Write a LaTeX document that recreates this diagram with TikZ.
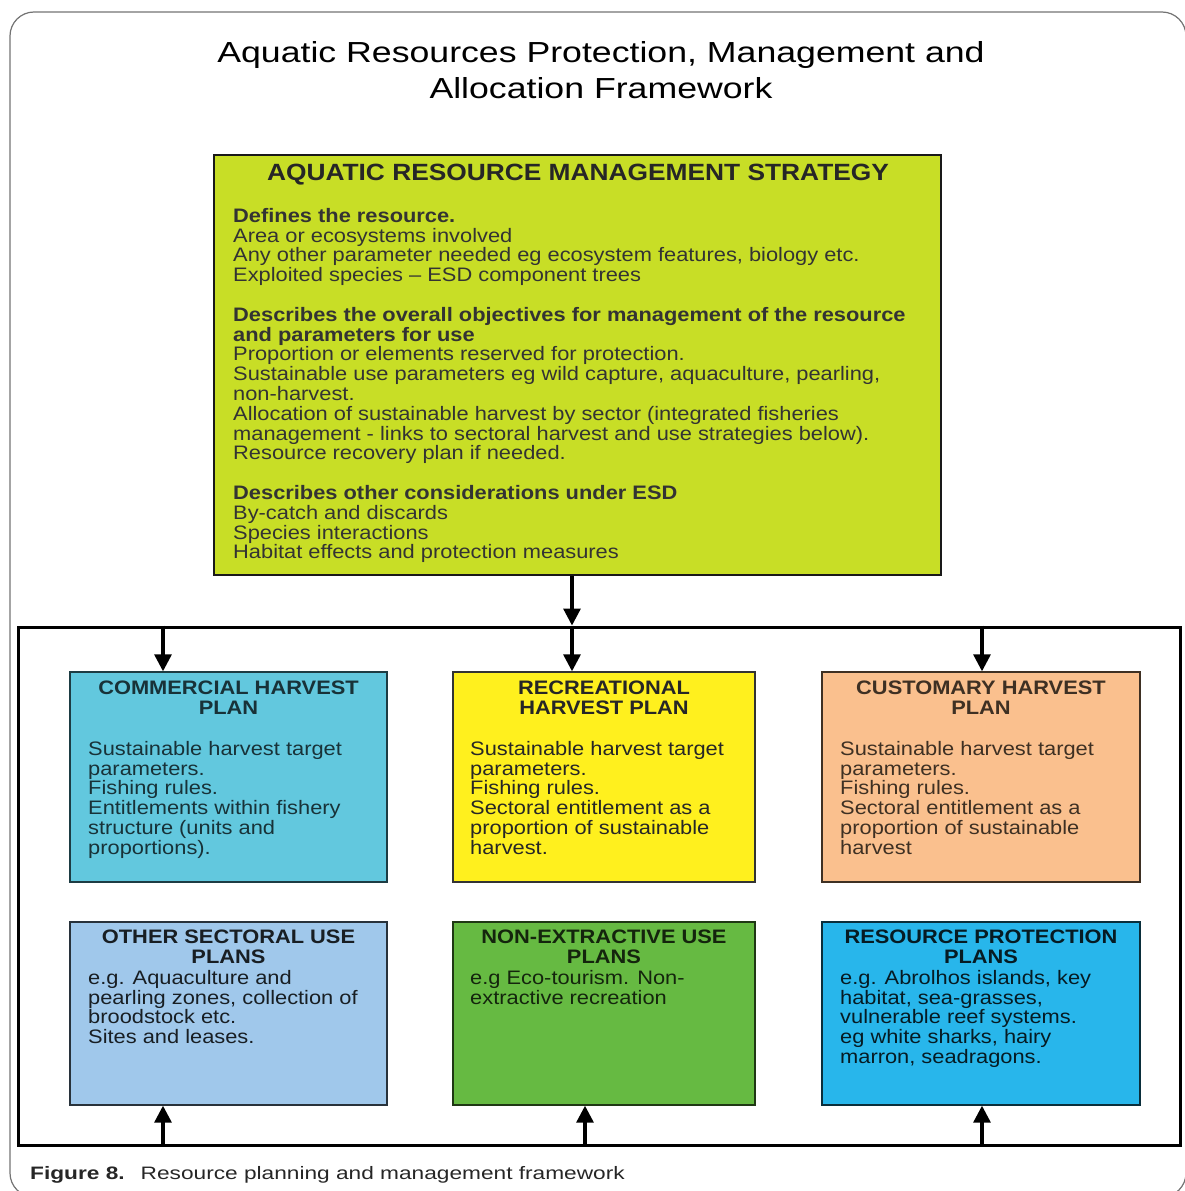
\documentclass[tikz,border=0pt]{standalone}
\usepackage{fontspec}
\setmainfont{Liberation Sans}[FakeStretch=1.12]
\newfontfamily\titlefont{Liberation Sans}[FakeStretch=1.23]
\newfontfamily\capfont{Liberation Sans}[FakeStretch=1.26]
\usetikzlibrary{arrows.meta}

\definecolor{stratgreen}{RGB}{200,222,38}
\definecolor{commblue}{RGB}{98,200,222}
\definecolor{recyellow}{RGB}{255,240,30}
\definecolor{custpeach}{RGB}{250,192,142}
\definecolor{otherblue}{RGB}{160,200,235}
\definecolor{nonextgreen}{RGB}{102,186,66}
\definecolor{protblue}{RGB}{40,182,235}

\newcommand{\bodyfont}{\fontsize{19.5}{19.8}\selectfont}

\tikzset{
  planbox/.style={fill=#1, draw=black!75, line width=1.4pt, inner sep=0pt},
  headtext/.style={text=#1, align=center, anchor=north, inner sep=0pt, font=\bodyfont\bfseries},
  plantext/.style={text=#1, align=left, anchor=north west, inner sep=0pt, font=\bodyfont},
  arr/.style={line width=3.2pt, -{Triangle[length=17pt,width=17pt]}}
}

\begin{document}
\begin{tikzpicture}[x=1pt, y=-1pt]
  \useasboundingbox (0,0) rectangle (1185,1191);
  \draw[black!55, line width=1.2pt, rounded corners=24pt] (10,12) rectangle (1186,1197);

  \node[anchor=north, align=center, inner sep=0pt, font=\titlefont\fontsize{29}{36}\selectfont, text=black]
    (title) at (601,41) {Aquatic Resources Protection, Management and\\Allocation Framework};

  % strategy box
  \node[planbox=stratgreen, draw=black!90, line width=2pt, minimum width=727pt, minimum height=420pt]
    (strategy) at (577.5,365) {};
  \node[headtext=black!85, font=\fontsize{23.5}{24}\selectfont\bfseries] (strathead)
    at (578,164) {AQUATIC RESOURCE MANAGEMENT STRATEGY};
  \node[plantext=black!80] (stratbody) at (233,208) {%
    \textbf{Defines the resource.}\\
    Area or ecosystems involved\\
    Any other parameter needed eg ecosystem features, biology etc.\\
    Exploited species -- ESD component trees\\[19.8pt]
    \textbf{Describes the overall objectives for management of the resource}\\
    \textbf{and parameters for use}\\
    Proportion or elements reserved for protection.\\
    Sustainable use parameters eg wild capture, aquaculture, pearling,\\
    non-harvest.\\
    Allocation of sustainable harvest by sector (integrated fisheries\\
    management - links to sectoral harvest and use strategies below).\\
    Resource recovery plan if needed.\\[19.8pt]
    \textbf{Describes other considerations under ESD}\\
    By-catch and discards\\
    Species interactions\\
    Habitat effects and protection measures};

  % sector frame
  \node[draw=black, line width=3pt, inner sep=0pt, minimum width=1162pt, minimum height=518pt]
    (frame) at (599,886) {};

  % plan boxes
  \node[planbox=commblue, draw=black!70!commblue, minimum width=317pt, minimum height=210pt] (comm) at (228.5,777) {};
  \node[planbox=recyellow, draw=black!80, minimum width=302pt, minimum height=210pt] (rec) at (604,777) {};
  \node[planbox=custpeach, draw=black!75!custpeach, minimum width=318pt, minimum height=210pt] (cust) at (981,777) {};
  \node[planbox=otherblue, draw=black!75!otherblue, minimum width=317pt, minimum height=183pt] (other) at (228.5,1013.5) {};
  \node[planbox=nonextgreen, draw=black!70!nonextgreen, minimum width=302pt, minimum height=183pt] (nonext) at (604,1013.5) {};
  \node[planbox=protblue, draw=black!75!protblue, minimum width=318pt, minimum height=183pt] (prot) at (981,1013.5) {};

  \node[headtext=commblue!25!black] (commhead) at (228.5,681) {COMMERCIAL HARVEST\\PLAN};
  \node[plantext=commblue!25!black] (commbody) at (88,741) {Sustainable harvest target\\parameters.\\Fishing rules.\\Entitlements within fishery\\structure (units and\\proportions).};

  \node[headtext=black!85] (rechead) at (604,681) {RECREATIONAL\\HARVEST PLAN};
  \node[plantext=black!85] (recbody) at (470,741) {Sustainable harvest target\\parameters.\\Fishing rules.\\Sectoral entitlement as a\\proportion of sustainable\\harvest.};

  \node[headtext=custpeach!25!black] (custhead) at (981,681) {CUSTOMARY HARVEST\\PLAN};
  \node[plantext=custpeach!25!black] (custbody) at (840,741) {Sustainable harvest target\\parameters.\\Fishing rules.\\Sectoral entitlement as a\\proportion of sustainable\\harvest};

  \node[headtext=otherblue!15!black] (otherhead) at (228.5,930) {OTHER SECTORAL USE\\PLANS};
  \node[plantext=otherblue!15!black] (otherbody) at (88,970) {e.g. Aquaculture and\\pearling zones, collection of\\broodstock etc.\\Sites and leases.};

  \node[headtext=nonextgreen!20!black] (nonexthead) at (604,930) {NON-EXTRACTIVE USE\\PLANS};
  \node[plantext=nonextgreen!20!black] (nonextbody) at (470,970) {e.g Eco-tourism. Non-\\extractive recreation};

  \node[headtext=protblue!15!black] (prothead) at (981,930) {RESOURCE PROTECTION\\PLANS};
  \node[plantext=protblue!15!black] (protbody) at (840,970) {e.g. Abrolhos islands, key\\habitat, sea-grasses,\\vulnerable reef systems.\\eg white sharks, hairy\\marron, seadragons.};

  % arrows
  \coordinate (xa) at (163,0);
  \coordinate (xm) at (572,0);
  \coordinate (xb) at (585,0);
  \coordinate (xc) at (982,0);
  \draw[arr] (strategy.south -| xm) -- (frame.north -| xm);
  \draw[arr] (frame.north -| xa) -- (comm.north -| xa);
  \draw[arr] (frame.north -| xm) -- (rec.north -| xm);
  \draw[arr] (frame.north -| xc) -- (cust.north -| xc);
  \draw[arr] (frame.south -| xa) -- (other.south -| xa);
  \draw[arr] (frame.south -| xb) -- (nonext.south -| xb);
  \draw[arr] (frame.south -| xc) -- (prot.south -| xc);

  \node[anchor=north west, inner sep=0pt, font=\capfont\fontsize{18}{20}\selectfont, text=black!85]
    (caption) at (30,1166) {\textbf{Figure 8.}\hspace{16pt}Resource planning and management framework};
\end{tikzpicture}
\end{document}
